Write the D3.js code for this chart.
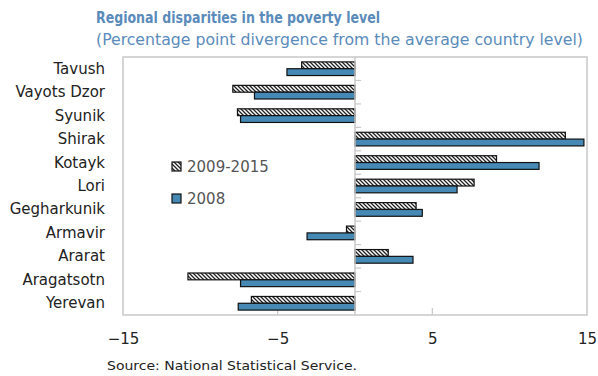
<!DOCTYPE html>
<html><head><meta charset="utf-8">
<script src="https://cdn.jsdelivr.net/npm/d3@7"></script>
<style>
body{margin:0;background:#fff;}
svg{display:block;font-family:"DejaVu Sans",sans-serif;}
</style></head>
<body><svg id="c" width="598" height="376"></svg>
<script>
const categories = ["Tavush","Vayots Dzor","Syunik","Shirak","Kotayk","Lori","Gegharkunik","Armavir","Ararat","Aragatsotn","Yerevan"];
const series2009_2015 = [-3.45,-7.9,-7.6,13.6,9.15,7.7,3.95,-0.55,2.15,-10.8,-6.7];
const series2008 = [-4.4,-6.5,-7.4,14.8,11.9,6.6,4.35,-3.1,3.75,-7.4,-7.55];
const seriesNames = ["2009-2015","2008"];
const tickValues = [-15,-5,5,15];

const svg = d3.select("#c");
const defs = svg.append("defs");
const pat = defs.append("pattern").attr("id","hatch").attr("patternUnits","userSpaceOnUse")
  .attr("width",4).attr("height",4);
pat.append("rect").attr("width",4).attr("height",4).attr("fill","#fff");
pat.append("path").attr("d","M-1,-1 L5,5 M-1,3 L1,5 M3,-1 L5,1").attr("stroke","#222").attr("stroke-width",1.3);

const L=123, R=587, T=57, B=315;
const x = d3.scaleLinear().domain([-15,15]).range([L,R]);
const y = d3.scaleBand().domain(categories).range([T,B]);
const inner = d3.scaleBand().domain(seriesNames).range([0,y.bandwidth()]).paddingInner(0).paddingOuter(0.72);

// title
svg.append("text").attr("x",96).attr("y",23).attr("fill","#5a8bbb").attr("font-weight","bold")
  .attr("font-family","DejaVu Sans Condensed, DejaVu Sans, sans-serif")
  .attr("font-size",15).attr("textLength",284).attr("lengthAdjust","spacingAndGlyphs")
  .text("Regional disparities in the poverty level");
svg.append("text").attr("x",96).attr("y",45).attr("fill","#5a8bbb")
  .attr("font-family","DejaVu Sans Condensed, DejaVu Sans, sans-serif")
  .attr("font-size",15).attr("textLength",487).attr("lengthAdjust","spacingAndGlyphs")
  .text("(Percentage point divergence from the average country level)");

// plot frame
svg.append("rect").attr("x",L).attr("y",T).attr("width",R-L).attr("height",B-T)
  .attr("fill","none").attr("stroke","#c8c8c8").attr("stroke-width",1.5);

// bottom inner ticks
svg.append("g").selectAll("line").data([-5,5]).join("line")
  .attr("x1",d=>x(d)).attr("x2",d=>x(d)).attr("y1",B-7).attr("y2",B)
  .attr("stroke","#c8c8c8").attr("stroke-width",1.2);

// category separators on zero axis
svg.append("g").selectAll("line").data(categories.slice(1)).join("line")
  .attr("x1",x(0)).attr("x2",x(0)+6).attr("y1",d=>y(d)).attr("y2",d=>y(d))
  .attr("stroke","#c8c8c8").attr("stroke-width",1.2);

// bars
const sets = [{name:seriesNames[0],vals:series2009_2015,fill:"url(#hatch)"},
              {name:seriesNames[1],vals:series2008,fill:"#4589b4"}];
sets.forEach(s=>{
  svg.append("g").selectAll("rect").data(categories).join("rect")
    .attr("x",(c,i)=>x(Math.min(0,s.vals[i])))
    .attr("width",(c,i)=>Math.abs(x(s.vals[i])-x(0)))
    .attr("y",c=>y(c)+inner(s.name))
    .attr("height",inner.bandwidth())
    .attr("fill",s.fill).attr("stroke","#111").attr("stroke-width",1.2);
});

// zero axis line
svg.append("line").attr("x1",x(0)).attr("x2",x(0)).attr("y1",T).attr("y2",B)
  .attr("stroke","#c8c8c8").attr("stroke-width",1.5);

// category labels
svg.append("g").selectAll("text").data(categories).join("text")
  .attr("x",105).attr("y",c=>y(c)+y.bandwidth()/2+5)
  .attr("text-anchor","end").attr("font-size",15).attr("fill","#222")
  .text(c=>c);

// x axis labels
const xa = svg.append("g").attr("transform",`translate(0,${B})`)
  .call(d3.axisBottom(x).tickValues(tickValues).tickSize(0).tickPadding(18).tickFormat(d3.format("d")));
xa.select(".domain").remove();
xa.selectAll("text").attr("font-size",15).attr("fill","#222")
  .attr("font-family","DejaVu Sans, sans-serif");

// legend
const leg = [{name:seriesNames[0],fill:"url(#hatch)",y:167},{name:seriesNames[1],fill:"#4589b4",y:199}];
leg.forEach(l=>{
  svg.append("rect").attr("x",172).attr("y",l.y-5).attr("width",9).attr("height",9)
    .attr("fill",l.fill).attr("stroke","#111").attr("stroke-width",1.2);
  svg.append("text").attr("x",187).attr("y",l.y+5).attr("font-size",15).attr("fill","#555").text(l.name);
});

// source
svg.append("text").attr("x",107).attr("y",370).attr("font-size",13).attr("fill","#222")
  .attr("textLength",250).attr("lengthAdjust","spacingAndGlyphs")
  .text("Source: National Statistical Service.");
</script>
</body></html>
